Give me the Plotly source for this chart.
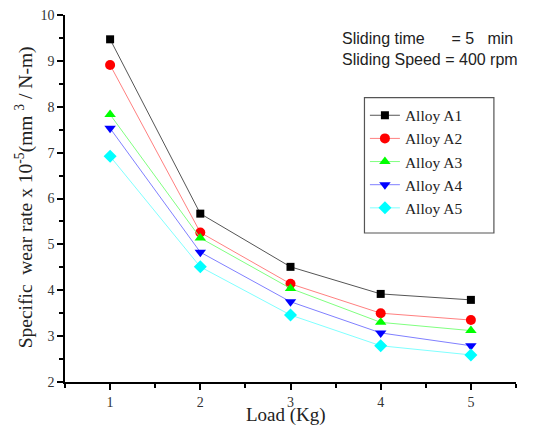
import plotly.graph_objects as go

loads = [1, 2, 3, 4, 5]
alloy_names = ["Alloy A1", "Alloy A2", "Alloy A3", "Alloy A4", "Alloy A5"]
a1 = [9.47, 5.67, 4.51, 3.92, 3.79]
a2 = [8.91, 5.26, 4.14, 3.50, 3.35]
a3 = [7.83, 5.14, 4.04, 3.30, 3.12]
a4 = [7.53, 4.83, 3.75, 3.07, 2.79]
a5 = [6.92, 4.51, 3.46, 2.79, 2.59]
series = [a1, a2, a3, a4, a5]

x_title = "Load (Kg)"
y_title = "Specific  wear rate x 10<sup>-5</sup>(mm <sup>3</sup> / N-m)"

marker_colors = ["#000000", "#ff0000", "#00ff00", "#0000ff", "#00ffff"]
line_colors = ["#555555", "#ff8080", "#80ff80", "#8080ff", "#80ffff"]
symbols = ["square", "circle", "triangle-up", "triangle-down", "diamond"]
sizes = [8, 10, 10, 10, 10]

fig = go.Figure()
for name, vals, mc, lc, sym, sz in zip(alloy_names, series, marker_colors, line_colors, symbols, sizes):
    fig.add_trace(go.Scatter(
        x=loads, y=vals, name=name, mode="lines+markers",
        line=dict(color=lc, width=1),
        marker=dict(symbol=sym, color=mc, size=sz),
    ))

serif = "Times New Roman, Liberation Serif, serif"
sans = "Arial, Liberation Sans, sans-serif"
# page body has an 8px margin, so the figure is sized to fit the 537x436 window
fig.update_layout(
    width=521, height=420,
    margin=dict(l=57, r=13, t=7, b=46, autoexpand=False),
    paper_bgcolor="white", plot_bgcolor="white",
    font=dict(family=serif, color="#222222"),
    showlegend=True,
    legend=dict(x=0.665, y=0.772, xanchor="left", yanchor="top",
                bgcolor="rgba(0,0,0,0)", borderwidth=0,
                font=dict(family=serif, size=15.5, color="#222222"),
                tracegroupgap=0, itemwidth=30),
    xaxis=dict(range=[0.5, 5.5], tickvals=[1, 2, 3, 4, 5], ticks="outside",
               ticklen=6, tickwidth=1.5, tickcolor="black", automargin=False,
               showline=True, linecolor="black", linewidth=1.5,
               showgrid=False, zeroline=False, ticklabeloverflow="allow",
               minor=dict(dtick=0.5, tick0=0.5, ticks="outside", ticklen=4, tickwidth=1.5, tickcolor="black", showgrid=False),
               tickfont=dict(family=serif, size=14, color="#333333")),
    yaxis=dict(range=[2, 10], dtick=1, ticks="outside",
               ticklen=6, tickwidth=1.5, tickcolor="black", automargin=False,
               showline=True, linecolor="black", linewidth=1.5,
               showgrid=False, zeroline=False, ticklabeloverflow="allow",
               minor=dict(dtick=0.5, ticks="outside", ticklen=4, tickwidth=1.5, tickcolor="black", showgrid=False),
               tickfont=dict(family=serif, size=14, color="#333333")),
    shapes=[dict(type="rect", xref="paper", yref="paper",
                 x0=0.664, x1=0.951, y0=0.406, y1=0.775,
                 line=dict(color="#555555", width=1.2))],
    annotations=[
        dict(xref="paper", yref="paper", x=0.49, y=-0.09, xanchor="center", yanchor="middle",
             text=x_title, showarrow=False,
             font=dict(family=serif, size=19, color="#222222")),
        dict(xref="paper", yref="paper", x=-0.091, y=0.503, xanchor="center", yanchor="middle",
             text=y_title, showarrow=False, textangle=-90,
             font=dict(family=serif, size=19.5, color="#222222")),
        dict(xref="paper", yref="paper", x=0.61, y=0.937, xanchor="left", yanchor="middle",
             text="Sliding time      = 5   min", showarrow=False,
             font=dict(family=sans, size=16, color="#222222")),
        dict(xref="paper", yref="paper", x=0.61, y=0.880, xanchor="left", yanchor="middle",
             text="Sliding Speed = 400 rpm", showarrow=False,
             font=dict(family=sans, size=16, color="#222222")),
    ],
)

fig.write_html("out.html")
